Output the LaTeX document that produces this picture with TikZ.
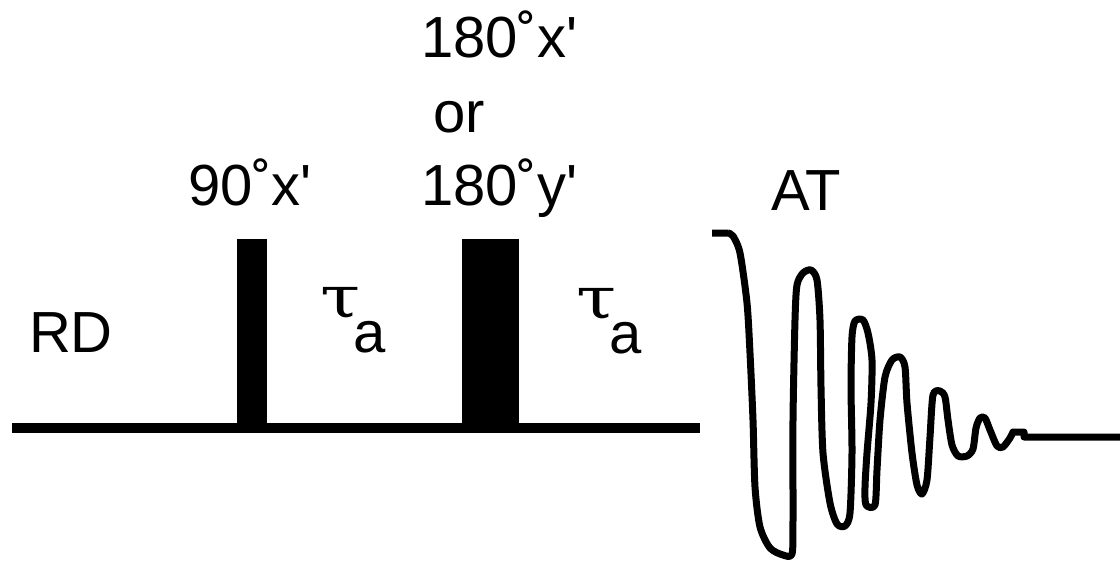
\documentclass[tikz,border=0pt]{standalone}
\usepackage{fontspec}
\newfontfamily\lsans{Liberation Sans}
\newfontfamily\tauf{DejaVu Serif}
\newcommand\taua{\makebox[16.5pt][l]{\tauf\scalebox{1.25}[1]{τ}}\raisebox{-17.5pt}{a}}
\begin{document}
\begin{tikzpicture}[x=0.5pt,y=-0.5pt,
  lbl/.style={anchor=base west,inner sep=0pt,outer sep=0pt,font=\lsans\fontsize{29}{34}\selectfont},
  pulse/.style={fill=black,draw=none},
  fid/.style={line width=3.5pt,line join=round,line cap=butt}]
\useasboundingbox (0,0) rectangle (1120,562);
% baseline
\draw[line width=4.8pt] (12,428) -- (700,428);
% pulses
\fill[pulse] (237,239) rectangle (267,431);
\fill[pulse] (462,239) rectangle (519,431);
% labels
\node[lbl] (l180x) at (421,57) {180˚x'};
\node[lbl] (lor) at (433,132) {or};
\node[lbl] (l180y) at (421,205) {180˚y'};
\node[lbl] (l90) at (188,205) {90˚x'};
\node[lbl] (lat) at (771,210) {AT};
\node[lbl] (lrd) at (29,352) {RD};
\node[lbl] (tau1) at (320,317) {\taua};
\node[lbl] (tau2) at (576,318) {\taua};
% FID
\draw[fid] (712,233) -- (728,233)
  plot[smooth,tension=0.45] coordinates {
  (728,233) (733,236) (740,253) (747,303) (750,353) (753,420) (755,487) (760,527) (770,548) (783,555) (792,554)
  (793,520) (793,420) (795,320) (797,285) (803,273) (811,270)
  (817,280) (820,320) (821,387) (823,453) (830,503) (837,524) (845,526)
  (850,513) (852,453) (851,387) (852,337) (855,321) (863,320)
  (868,333) (872,360) (871,403) (867,453) (865,487) (866,505) (875,505)
  (877,470) (880,420) (885,377) (892,360) (900,357)
  (905,367) (907,403) (912,453) (917,485) (922,494)
  (927,480) (930,437) (933,395) (940,391) (945,397)
  (948,420) (952,445) (958,456) (967,456) (973,449)
  (976,428) (980,418) (985,418)
  (990,430) (997,446) (1003,447) (1010,438) (1013,432) }
  -- (1024,432) -- (1024,437) -- (1120,437);
\end{tikzpicture}
\end{document}
